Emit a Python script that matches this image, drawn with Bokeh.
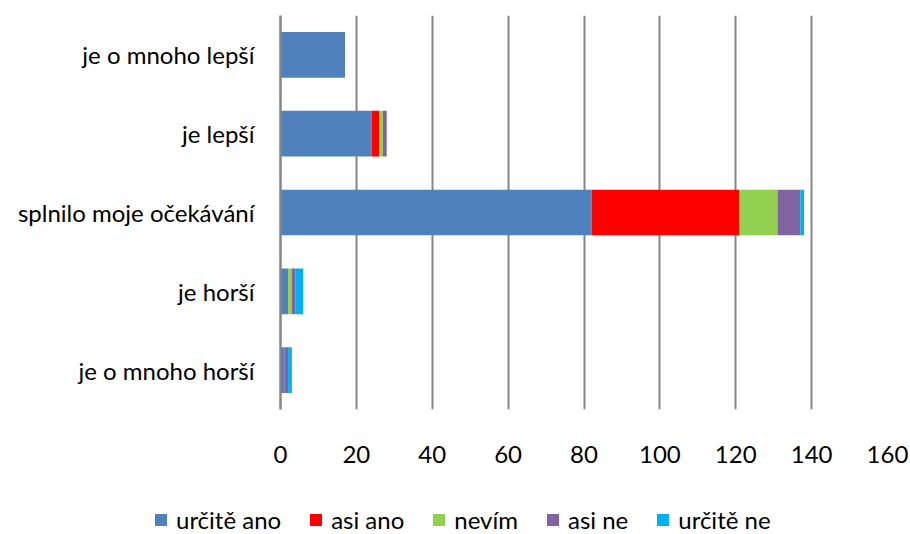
from bokeh.plotting import figure
from bokeh.layouts import column
from bokeh.models import Legend, LegendItem, Range1d, FactorRange, FixedTicker, ColumnDataSource
from bokeh.embed import file_html
from bokeh.resources import INLINE

categories = ["je o mnoho lepší", "je lepší", "splnilo moje očekávání", "je horší", "je o mnoho horší"]
series = ["určitě ano", "asi ano", "nevím", "asi ne", "určitě ne"]
urcite_ano = [17, 24, 82, 2, 1]
asi_ano = [0, 2, 39, 0, 0]
nevim = [0, 1, 10, 1, 0]
asi_ne = [0, 1, 6, 1, 1]
urcite_ne = [0, 0, 1, 2, 1]
x_ticks = [0, 20, 40, 60, 80, 100, 120, 140, 160]
colors = ["#4F81BD", "#FF0000", "#92D050", "#8064A2", "#00B0F0"]

FONT = "Lato"
FS = "24px"

keys = ["s0", "s1", "s2", "s3", "s4"]
data = dict(cat=categories)
for k, v in zip(keys, [urcite_ano, asi_ano, nevim, asi_ne, urcite_ne]):
    data[k] = v
source = ColumnDataSource(data)

p = figure(width=910, height=498, output_backend="svg", toolbar_location=None,
           y_range=FactorRange(*list(reversed(categories))),
           x_range=Range1d(x_ticks[0], x_ticks[-1]),
           min_border_left=280, min_border_right=23, min_border_top=15, min_border_bottom=89)
p.frame_align = False

p.hbar_stack(keys, y="cat", height=0.58, color=colors, source=source, line_color=None)

p.outline_line_color = None
p.background_fill_color = "white"
p.border_fill_color = "white"

p.ygrid.grid_line_color = None
p.xgrid.grid_line_color = "#868686"
p.xgrid.grid_line_width = 2
p.xaxis.ticker = FixedTicker(ticks=x_ticks)
p.xaxis.axis_line_color = None
p.xaxis.major_tick_line_color = None
p.xaxis.minor_tick_line_color = None
p.xaxis.major_label_standoff = 30
p.xaxis.major_label_text_font = FONT
p.xaxis.major_label_text_font_size = FS
p.xaxis.major_label_text_color = "black"

p.yaxis.axis_line_color = "#868686"
p.yaxis.axis_line_width = 2.5
p.yaxis.major_tick_line_color = None
p.yaxis.minor_tick_line_color = None
p.yaxis.major_tick_out = 0
p.yaxis.major_tick_in = 0
p.yaxis.major_label_standoff = 26
p.yaxis.major_label_text_font = FONT
p.yaxis.major_label_text_font_size = FS
p.yaxis.major_label_text_color = "black"

# legend strip below the chart (dummy renderers with NaN extent: nothing is drawn)
lg = figure(width=910, height=36, output_backend="svg", toolbar_location=None,
            x_range=Range1d(0, 1), y_range=Range1d(0, 1), min_border=0,
            x_axis_location=None, y_axis_location=None)
lg.frame_align = False
lg.grid.grid_line_color = None
lg.outline_line_color = None
lg.background_fill_color = "white"
lg.border_fill_color = "white"
items = []
for s, c in zip(series, colors):
    r = lg.hbar(y=[0.5], left=[0.0], right=[float("nan")], height=0.5, color=c, line_color=None)
    items.append(LegendItem(label=s, renderers=[r]))
legend = Legend(items=items, orientation="horizontal", location=(153, 0),
                label_text_font=FONT, label_text_font_size=FS, label_text_color="black",
                glyph_width=15, glyph_height=15, label_standoff=8, spacing=27,
                padding=0, margin=0, border_line_color=None, background_fill_alpha=0)
lg.add_layout(legend, "center")

layout = column(p, lg, spacing=0)
open("out.html", "w").write(file_html(layout, INLINE))
